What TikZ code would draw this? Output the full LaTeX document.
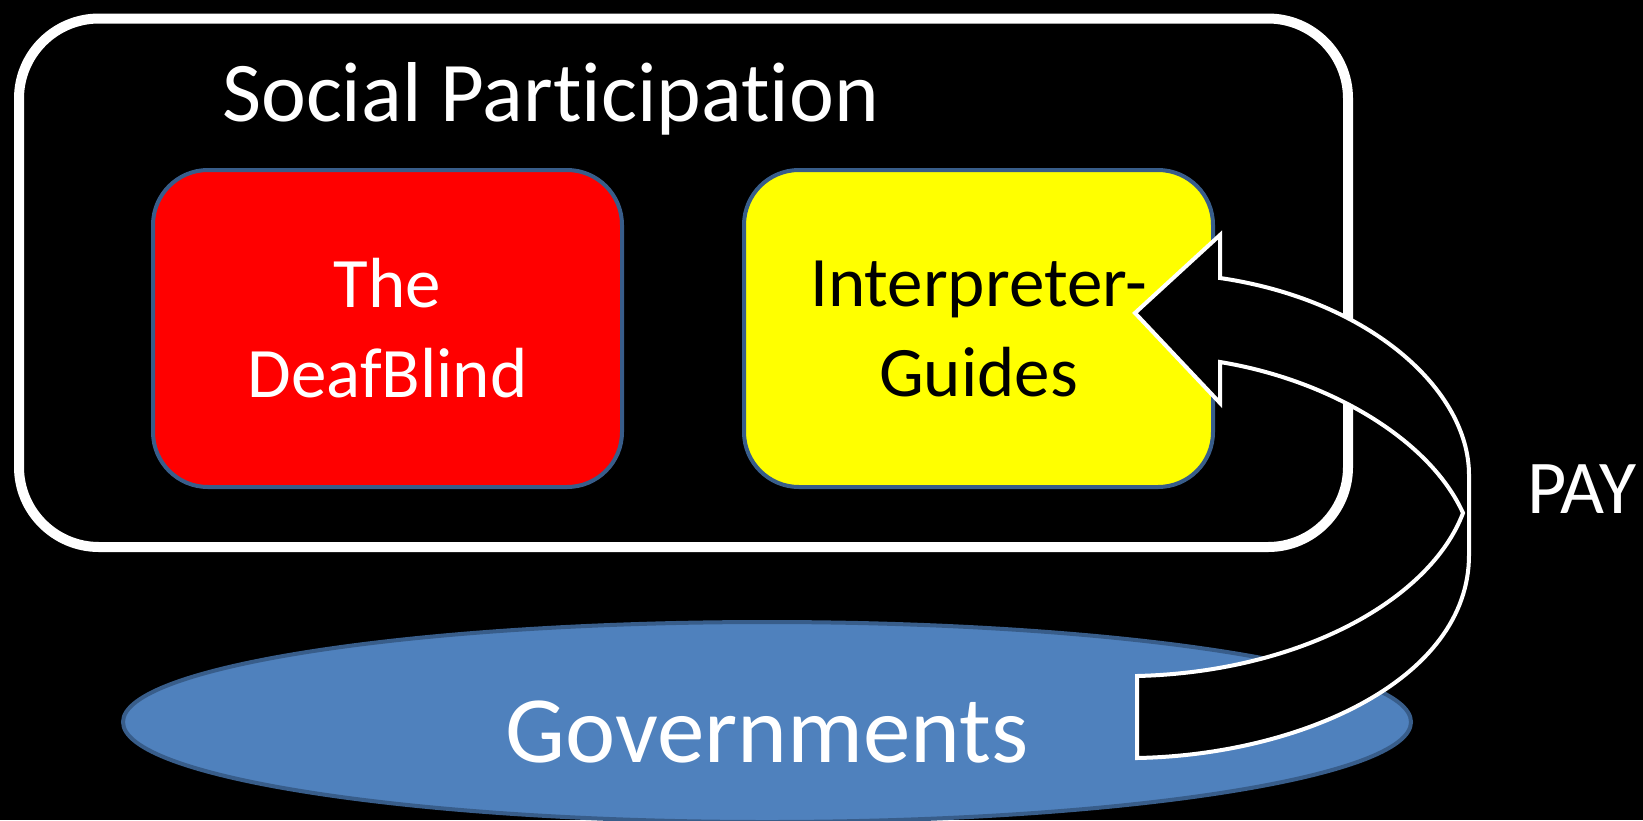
\documentclass[tikz,border=0pt]{standalone}
\usepackage{fontspec}
\setmainfont{Carlito}[Ligatures={NoCommon,NoContextual}]
\definecolor{edgeblue}{HTML}{385D8A}
\definecolor{govblue}{HTML}{4F81BD}
\definecolor{boxred}{HTML}{FF0000}
\definecolor{boxyellow}{HTML}{FFFF00}
\begin{document}
\begin{tikzpicture}[x=1pt,y=-1pt,
  outerbox/.style={draw=white,line width=10pt,rounded corners=80pt},
  innerbox/.style={draw=edgeblue,line width=4pt,rounded corners=55pt,minimum width=469pt,minimum height=317pt,inner sep=0pt,align=center,font=\fontsize{71}{90}\selectfont},
  blockarrow/.style={fill=black,draw=white,line width=4pt,line join=miter},
  lbl/.style={inner sep=0pt}]
\useasboundingbox (0,0) rectangle (1643,820);
\fill[black] (0,0) rectangle (1643,820);
% outer frame
\draw[outerbox] (19,18.5) rectangle (1348,547);
\node[lbl,anchor=base west,text=white,font=\fontsize{85}{100}\selectfont] (title) at (222,121) {Social Participation};
% inner boxes
\node[innerbox,fill=boxred,text=white] (deafblind) at (387.5,328.5) {The\\DeafBlind};
\node[innerbox,fill=boxyellow,text=black] (guides) at (978.5,328.5) {Interpreter-\\Guides};
% governments
\fill[govblue,draw=edgeblue,line width=4pt] (767,722) ellipse [x radius=644, y radius=100];
\node[lbl,anchor=base,text=white,font=\fontsize{95}{110}\selectfont] (gov) at (767,762) {Governments};
% curved block arrow
\coordinate (tailtop) at (1137,676);
\coordinate (tailbot) at (1137,758);
\coordinate (fold) at (1463,513);
\coordinate (shaftbot) at (1220,362);
\coordinate (barbbot) at (1220,403);
\coordinate (tip) at (1135,313);
\coordinate (barbtop) at (1220,235);
\coordinate (shafttop) at (1220,278);
\coordinate (outA) at (1469,475);
\coordinate (outB) at (1469,555);
\draw[blockarrow] (tailtop) .. controls (1300,672) and (1430,600) .. (fold)
  .. controls (1430,440) and (1330,380) .. (shaftbot)
  -- (barbbot) -- (tip) -- (barbtop) -- (shafttop)
  .. controls (1370,300) and (1469,390) .. (outA)
  -- (outB)
  .. controls (1469,680) and (1300,755) .. (tailbot) -- cycle;
\node[lbl,anchor=base west,text=white,font=\fontsize{76}{90}\selectfont] (pay) at (1527,513) {PAY};
\end{tikzpicture}
\end{document}
